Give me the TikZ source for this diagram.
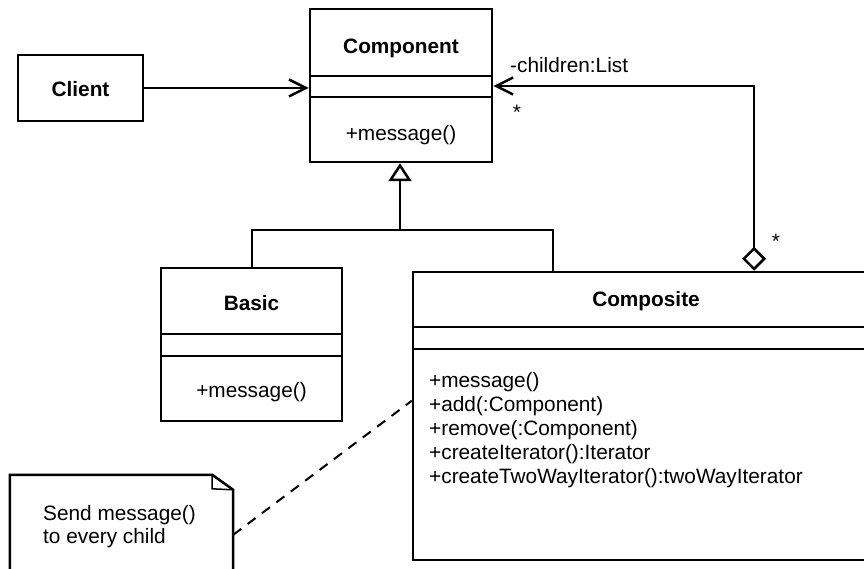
\documentclass[tikz,border=0pt]{standalone}
\usepackage{fontspec}
\setmainfont{Liberation Sans}
\usetikzlibrary{arrows.meta,positioning,calc}

\tikzset{
  umlbox/.style={draw,line width=2.5pt,inner sep=0pt},
  umlline/.style={line width=2.5pt},
  umltext/.style={inner sep=0pt,font=\fontsize{20.8}{24}\selectfont},
  umltitle/.style={umltext,font=\fontsize{20.8}{24}\selectfont\bfseries},
  barb/.style={-{Straight Barb[length=17pt,width=17pt]}},
}

\begin{document}
\begin{tikzpicture}[x=1pt,y=-1pt]
  \clip (0,0) rectangle (864,569);
  % class boxes
  \node[umlbox,minimum width=182pt,minimum height=153pt] (component) at (401,85.5) {};
  \node[umlbox,minimum width=125pt,minimum height=66pt] (client) at (80.5,88) {};
  \node[umlbox,minimum width=181pt,minimum height=153pt] (basic) at (251.5,344.5) {};
  \node[umlbox,minimum width=466pt,minimum height=288pt] (composite) at (646,416) {};
  \node[minimum width=223pt,minimum height=130pt,inner sep=0pt] (note) at (121.5,540) {};

  % compartments
  \draw[umlline] (component.west |- 0,76) -- (component.east |- 0,76);
  \draw[umlline] (component.west |- 0,97) -- (component.east |- 0,97);
  \draw[umlline] (basic.west |- 0,334) -- (basic.east |- 0,334);
  \draw[umlline] (basic.west |- 0,356) -- (basic.east |- 0,356);
  \draw[umlline] (composite.west |- 0,327) -- (composite.east |- 0,327);
  \draw[umlline] (composite.west |- 0,349) -- (composite.east |- 0,349);

  % texts
  \node[umltitle,anchor=base] (comptitle) at (401,54) {Component};
  \node[umltext,anchor=base] (compmsg) at (401,141) {+message()};
  \node[umltitle,anchor=base] (clienttitle) at (80.5,97) {Client};
  \node[umltitle,anchor=base] (basictitle) at (251.5,310) {Basic};
  \node[umltext,anchor=base] (basicmsg) at (251.5,397) {+message()};
  \node[umltitle,anchor=base] (compositetitle) at (646,306) {Composite};
  \foreach \m [count=\i from 0] in {+message(),+add(:Component),+remove(:Component),+createIterator():Iterator,+createTwoWayIterator():twoWayIterator}
    \node[umltext,anchor=base west] (method\i) at (429,{387+24*\i}) {\m};

  % note
  \draw[umlline,line join=miter] (note.south west) -- (note.north west) -- ($(note.north east)+(-21,0)$)
    -- ($(note.north east)+(0,15)$) -- (note.south east);
  \draw[line width=1.5pt] ($(note.north east)+(-21,0)$) -- ++(0,14) -- ($(note.north east)+(0,15)$);
  \node[umltext,anchor=base west] (notetext1) at (43,520) {Send message()};
  \node[umltext,anchor=base west] (notetext2) at (43,543) {to every child};
  \draw[line width=2pt,dash pattern=on 10pt off 8pt] ($(note.north east)+(0,60)$) -- ($(composite.north west)+(0,130)$);

  % associations
  \draw[umlline,barb] (client.east) -- (client.east -| component.west);
  \draw[umlline,{Diamond[open,length=24pt,width=24pt]}-{Straight Barb[length=17pt,width=17pt]}]
    (754,0 |- composite.north) -- (754,86) -- (component.east |- 0,86);
  \node[umltext,anchor=base west] (childrenlabel) at (510,73) {-children:List};
  \node[umltext,anchor=base] (starnear) at (517,120) {*};
  \node[umltext,anchor=base] (starfar) at (776,249) {*};

  % generalization
  \coordinate (genjoin) at (400,230);
  \draw[umlline,-{Triangle[open,length=18pt,width=23pt]}] (basic.north -| 252,0) |- (genjoin) -- (genjoin |- component.south);
  \draw[umlline] (genjoin) -| (553,0 |- composite.north);
\end{tikzpicture}
\end{document}
